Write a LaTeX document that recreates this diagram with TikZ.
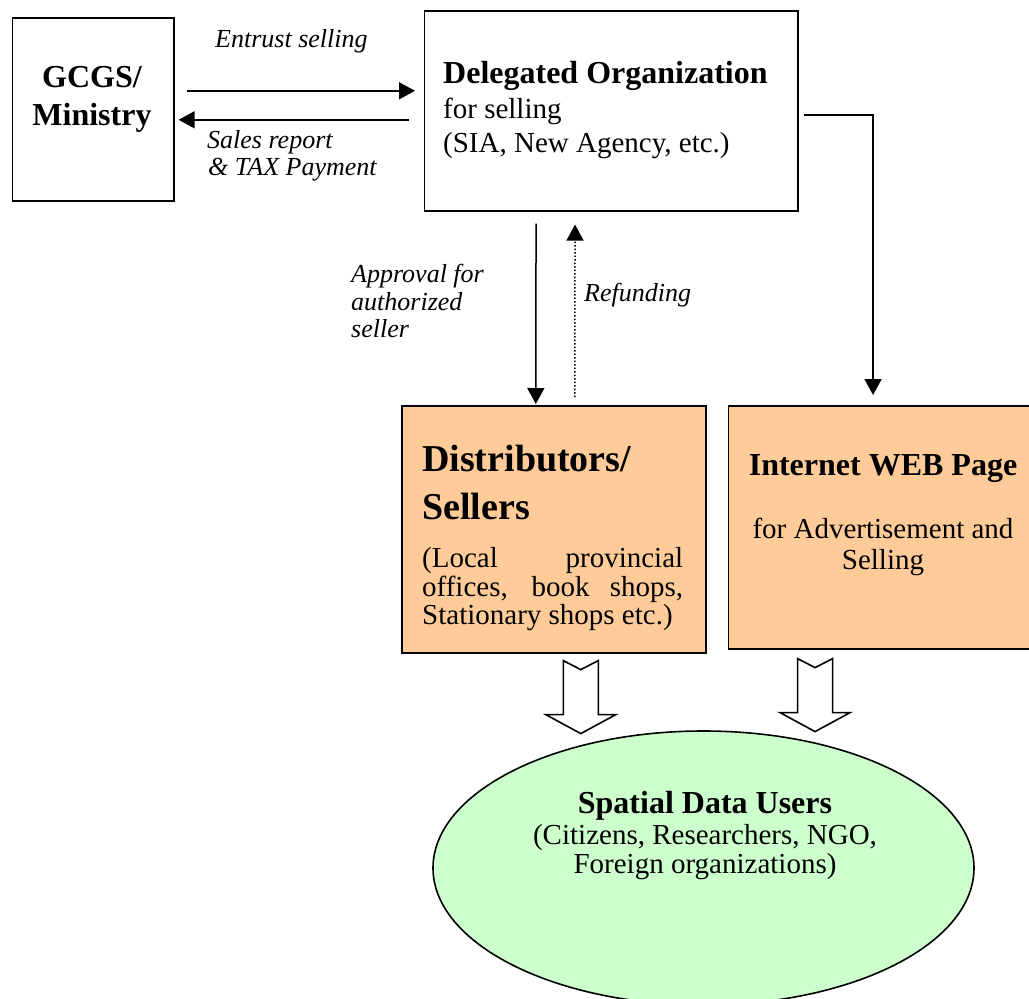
\documentclass[tikz,border=0pt]{standalone}
\usepackage{fontspec}
\setmainfont{Liberation Serif}
\usetikzlibrary{arrows.meta,shapes.geometric,calc}
\definecolor{sellerfill}{HTML}{FFCC99}
\definecolor{userfill}{HTML}{CCFFCC}

\begin{document}
\begin{tikzpicture}[x=1pt,y=-1pt,
  box/.style={draw, line width=1.6pt, inner sep=0pt, anchor=north west},
  conn/.style={line width=1.5pt, -{Triangle[length=16pt,width=17pt]}},
  flowtext/.style={font=\fontsize{26}{30}\selectfont\itshape, inner sep=0pt, anchor=base west},
  bodytext/.style={font=\fontsize{29}{33}\selectfont, inner sep=0pt},
  headtext/.style={font=\fontsize{32}{36}\selectfont\bfseries, inner sep=0pt},
  bigheadtext/.style={font=\fontsize{38}{42}\selectfont\bfseries, inner sep=0pt, anchor=base west},
  blockarr/.style={draw, line width=1.6pt, fill=white, line join=miter}]
\useasboundingbox (0,0) rectangle (1029,999);

% ---- boxes ----
\node[box, minimum width=161.5pt, minimum height=183pt] (gcgs) at (11.5,17) {};
\node[box, minimum width=373.5pt, minimum height=200pt] (deleg) at (423.5,10) {};
\node[box, fill=sellerfill, minimum width=304pt, minimum height=247pt] (dist) at (401,405) {};
\node[box, fill=sellerfill, minimum width=313pt, minimum height=243pt] (web) at (727.5,405) {};
\node[draw, line width=1.6pt, fill=userfill, ellipse, inner sep=0pt,
      minimum width=541pt, minimum height=274pt] (users) at (703.5,868) {};

% ---- box texts ----
\node[headtext, anchor=base] (gcgs1) at (92,87) {GCGS/};
\node[headtext, anchor=base] (gcgs2) at (92,125) {Ministry};

\node[headtext, anchor=base west] (del1) at (443,83) {Delegated Organization};
\node[bodytext, anchor=base west] (del2) at (443,118) {for selling};
\node[bodytext, anchor=base west] (del3) at (443,152) {(SIA, New Agency, etc.)};

\node[bigheadtext] (dis1) at (422,471) {Distributors/};
\node[bigheadtext] (dis2) at (422,519) {Sellers};
\node[bodytext, anchor=base west] (dis3) at (422,567) {\makebox[261pt][s]{(Local provincial}};
\node[bodytext, anchor=base west] (dis4) at (422,596) {\makebox[261pt][s]{offices, book shops,}};
\node[bodytext, anchor=base west] (dis5) at (422,624) {Stationary shops etc.)};

\node[headtext, anchor=base] (web1) at (883,475) {Internet WEB Page};
\node[bodytext, anchor=base] (web2) at (883,538) {for Advertisement and};
\node[bodytext, anchor=base] (web3) at (883,569) {Selling};

\node[headtext, anchor=base] (usr1) at (705,813) {Spatial Data Users};
\node[bodytext, anchor=base] (usr2) at (705,844) {(Citizens, Researchers, NGO,};
\node[bodytext, anchor=base] (usr3) at (705,873) {Foreign organizations)};

% ---- connector labels ----
\node[flowtext] (lentrust) at (215,47) {Entrust selling};
\node[flowtext] (lsales1) at (207,148) {Sales report};
\node[flowtext] (lsales2) at (208,175) {\& TAX Payment};
\node[flowtext] (lappr1) at (351,282) {Approval for};
\node[flowtext] (lappr2) at (351,310) {authorized};
\node[flowtext] (lappr3) at (351,337) {seller};
\node[flowtext] (lrefund) at (584,301) {Refunding};

% ---- connectors ----
\draw[conn] ([xshift=12pt,yshift=18.5pt]gcgs.east) -- ([xshift=-8.5pt,yshift=20pt]deleg.west);
\draw[conn] ([xshift=-15pt,yshift=-9pt]deleg.west) -- ([xshift=4pt,yshift=-10.5pt]gcgs.east);
\draw[conn] ([xshift=-75pt,yshift=-12pt]deleg.south) -- ([xshift=-18pt,yshift=1pt]dist.north);
\draw[conn, dotted] ([xshift=21pt,yshift=8pt]dist.north) -- ([xshift=-36pt,yshift=-13pt]deleg.south);
\draw[conn] ([xshift=5pt,yshift=-4pt]deleg.east) -| ([xshift=-11.75pt,yshift=10pt]web.north);

% ---- hollow block arrows towards the users ----
\coordinate (ldrop) at ($(dist.south)+(27,7)$);
\coordinate (rdrop) at ($(web.south)+(-69.75,9)$);
\draw[blockarr] (ldrop) ++(-17.5,0) -- ++(17.5,9) -- ++(17.5,-9) -- ++(0,54)
  -- ++(17.5,0) -- ++(-35,19) -- ++(-35,-19) -- ++(17.5,0) -- cycle;
\draw[blockarr] (rdrop) ++(-17.5,0) -- ++(17.5,9) -- ++(17.5,-9) -- ++(0,54)
  -- ++(17.5,0) -- ++(-35,19) -- ++(-35,-19) -- ++(17.5,0) -- cycle;
\end{tikzpicture}
\end{document}
